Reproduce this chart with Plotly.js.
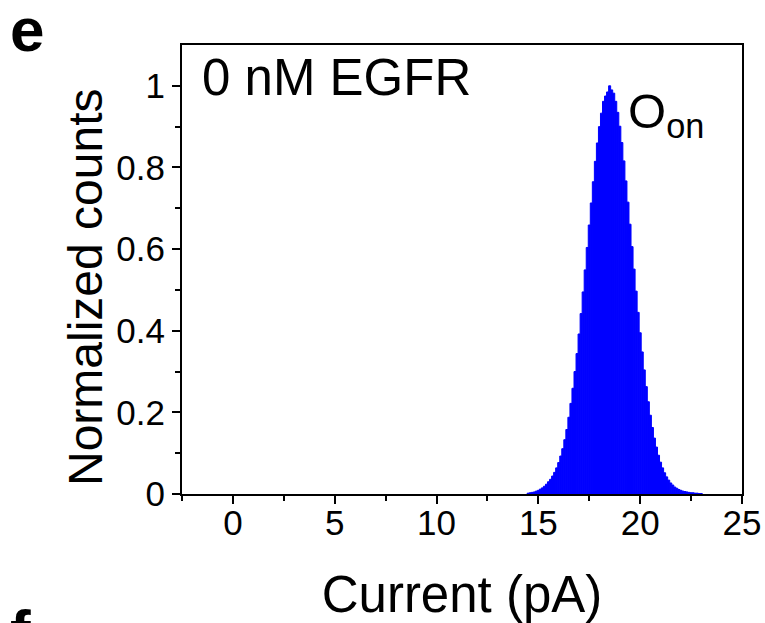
<!DOCTYPE html>
<html>
<head>
<meta charset="utf-8">
<script src="https://cdn.plot.ly/plotly-3.0.1.min.js"></script>
<style>html,body{margin:0;padding:0;background:#fff;}#chart{width:765px;height:623px;}</style>
</head>
<body>
<div id="chart"></div>
<script>
// Bin centres (pA), bin width 0.1 pA
const currentBins = [
  14.5,14.6,14.7,14.8,14.9,15.0,15.1,15.2,15.3,15.4,
  15.5,15.6,15.7,15.8,15.9,16.0,16.1,16.2,16.3,16.4,
  16.5,16.6,16.7,16.8,16.9,17.0,17.1,17.2,17.3,17.4,
  17.5,17.6,17.7,17.8,17.9,18.0,18.1,18.2,18.3,18.4,
  18.5,18.6,18.7,18.8,18.9,19.0,19.1,19.2,19.3,19.4,
  19.5,19.6,19.7,19.8,19.9,20.0,20.1,20.2,20.3,20.4,
  20.5,20.6,20.7,20.8,20.9,21.0,21.1,21.2,21.3,21.4,
  21.5,21.6,21.7,21.8,21.9,22.0,22.1,22.2,22.3,22.4,
  22.5,22.6,22.7,22.8,22.9,23.0
];
// Normalized counts
const normCounts = [
  0.002,0.003,0.004,0.005,0.007,0.009,0.012,0.015,0.019,0.024,
  0.030,0.036,0.044,0.053,0.064,0.077,0.093,0.111,0.133,0.158,
  0.188,0.222,0.259,0.300,0.344,0.392,0.442,0.495,0.549,0.604,
  0.659,0.713,0.765,0.815,0.860,0.900,0.933,0.962,0.975,0.985,
  1.000,0.990,0.982,0.962,0.935,0.901,0.861,0.816,0.767,0.715,
  0.661,0.606,0.551,0.497,0.445,0.395,0.348,0.304,0.263,0.226,
  0.193,0.163,0.137,0.115,0.095,0.078,0.064,0.052,0.042,0.034,
  0.027,0.022,0.017,0.014,0.011,0.009,0.007,0.006,0.005,0.004,
  0.003,0.003,0.002,0.002,0.001,0.001
];
const xTickVals = [0,5,10,15,20,25];
const xTickText = ['0','5','10','15','20','25'];
const yTickVals = [0,0.2,0.4,0.6,0.8,1];
const yTickText = ['0','0.2','0.4','0.6','0.8','1'];
const panelLabel = 'e';
const nextPanelLabel = 'f';
const conditionLabel = '0 nM EGFR';
const peakLabel = 'O<sub>on</sub>';
const xTitle = 'Current (pA)';
const yTitle = 'Normalized counts';

const FONT = 'Liberation Sans, Arial, Helvetica, sans-serif';
const BLUE = 'rgb(0,0,255)';

const trace = {
  type: 'bar',
  x: currentBins,
  y: normCounts,
  width: 0.1,
  marker: {color: BLUE, line: {color: BLUE, width: 1}},
  hoverinfo: 'x+y'
};

const axisCommon = {
  showgrid: false,
  zeroline: false,
  showline: true,
  linecolor: '#000',
  linewidth: 2,
  mirror: true,
  ticks: 'outside',
  ticklen: 8,
  tickwidth: 2,
  tickcolor: '#000',
  tickfont: {family: FONT, size: 35, color: '#000'},
  automargin: false
};

const layout = {
  width: 765,
  height: 623,
  margin: {l: 182, r: 23, t: 45, b: 129, pad: 0},
  paper_bgcolor: '#fff',
  plot_bgcolor: '#fff',
  showlegend: false,
  bargap: 0,
  font: {family: FONT, color: '#000'},
  xaxis: Object.assign({}, axisCommon, {
    range: [-2.5, 25],
    tickmode: 'array',
    tickvals: xTickVals,
    ticktext: xTickText,
    ticklabelstandoff: -11,
    minor: {tickmode: 'array', tickvals: [-2.5, 2.5, 7.5, 12.5, 17.5, 22.5], ticks: 'outside', ticklen: 5, tickwidth: 2, tickcolor: '#000'},
    title: {text: xTitle, font: {family: FONT, size: 51, color: '#000'}, standoff: 35}
  }),
  yaxis: Object.assign({}, axisCommon, {
    range: [0, 1.1],
    tickmode: 'array',
    tickvals: yTickVals,
    ticktext: yTickText,
    minor: {tickmode: 'array', tickvals: [0.1, 0.3, 0.5, 0.7, 0.9], ticks: 'outside', ticklen: 5, tickwidth: 2, tickcolor: '#000'}
  }),
  annotations: [
    {text: yTitle, textangle: -90, xref: 'paper', yref: 'paper', x: (85 - 182) / 560, y: (494 - 287) / 449, xanchor: 'center', yanchor: 'middle', showarrow: false, font: {family: FONT, size: 48, color: '#000'}},
    {text: conditionLabel, xref: 'paper', yref: 'paper', x: 0.032, y: 0.928, xanchor: 'left', yanchor: 'middle', showarrow: false, font: {family: FONT, size: 51, color: '#000'}},
    {text: peakLabel, xref: 'paper', yref: 'paper', x: 0.792, y: 0.845, xanchor: 'left', yanchor: 'middle', showarrow: false, font: {family: FONT, size: 49, color: '#000'}},
    {text: '<b>' + panelLabel + '</b>', xref: 'paper', yref: 'paper', x: -0.31, y: 1.115, xanchor: 'left', yanchor: 'top', showarrow: false, font: {family: FONT, size: 62, color: '#000'}},
    {text: '<b>' + nextPanelLabel + '</b>', xref: 'paper', yref: 'paper', x: -0.31, y: -0.225, xanchor: 'left', yanchor: 'top', showarrow: false, font: {family: FONT, size: 62, color: '#000'}}
  ]
};

Plotly.newPlot('chart', [trace], layout, {displayModeBar: false, staticPlot: true});
</script>
</body>
</html>
